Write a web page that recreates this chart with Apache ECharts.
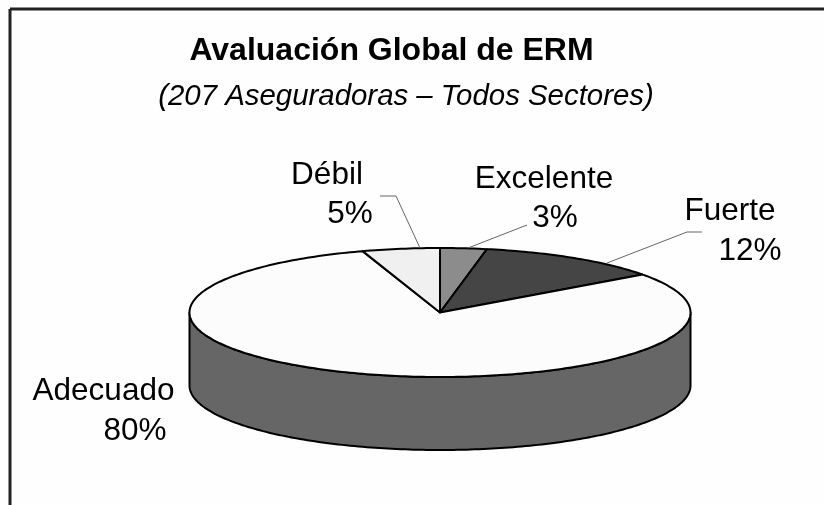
<!DOCTYPE html>
<html>
<head>
<meta charset="utf-8">
<title>Avaluación Global de ERM</title>
<script src="https://cdn.jsdelivr.net/npm/echarts@6/dist/echarts.min.js"></script>
<style>
  html, body { margin: 0; padding: 0; background: #fff; }
  #chart { width: 824px; height: 505px; }
</style>
</head>
<body>
<div id="chart"></div>
<script>
const categories = ["Excelente", "Fuerte", "Adecuado", "Débil"];
const shares = [3, 12, 80, 5];

const sliceColors = ["#8c8c8c", "#454545", "#fcfcfc", "#f0f0f0"];
const wallColor = "#666666";
const font = '"Liberation Sans", Arial, sans-serif';

// pie geometry in pixels: the ellipse is the squashed circle, depth is the wall height
const cx = 440, cy = 312.5, rx = 250.5, ry = 64.5, depth = 73;

// label line centres and leader line, same order as categories
const labelLayout = [
  { name: [544, 179], pct: [555, 218], leader: [[527, 225], [468, 248]] },
  { name: [730, 211], pct: [750, 251], leader: [[702, 232], [687, 232], [607, 263]] },
  { name: [103.5, 391], pct: [135, 431], leader: null },
  { name: [327, 175.5], pct: [350, 214.5], leader: [[380, 196], [396, 196], [420, 248]] }
];

const total = shares.reduce((a, b) => a + b, 0);

function rim(deg, drop) {
  const r = deg * Math.PI / 180;
  return [cx + rx * Math.sin(r), cy - ry * Math.cos(r) + (drop || 0)];
}

function arc(from, to, drop) {
  const pts = [];
  const n = Math.max(2, Math.ceil(to - from));
  for (let i = 0; i <= n; i++) {
    pts.push(rim(from + (to - from) * i / n, drop));
  }
  return pts;
}

function labelText(text, pos) {
  return {
    type: "text",
    x: pos[0],
    y: pos[1],
    style: {
      text: text,
      font: '31.5px ' + font,
      fill: "#000",
      align: "center",
      verticalAlign: "middle"
    }
  };
}

function renderSlice(params, api) {
  const i = params.dataIndex;
  let before = 0;
  for (let k = 0; k < i; k++) before += shares[k];
  const start = before / total * 360;
  const end = start + api.value(0) / total * 360;
  const children = [];

  // only the front half of the cylinder shows a wall
  const wallFrom = Math.max(start, 90), wallTo = Math.min(end, 270);
  if (wallTo > wallFrom) {
    children.push({
      type: "polygon",
      shape: { points: arc(wallFrom, wallTo, 0).concat(arc(wallFrom, wallTo, depth).reverse()) },
      style: { fill: wallColor, stroke: "#000", lineWidth: 2, lineJoin: "round" }
    });
  }

  children.push({
    type: "polygon",
    shape: { points: [[cx, cy]].concat(arc(start, end, 0)) },
    style: { fill: sliceColors[i], stroke: "#000", lineWidth: 2, lineJoin: "round" }
  });

  const lay = labelLayout[i];
  if (lay.leader) {
    children.push({
      type: "polyline",
      shape: { points: lay.leader },
      style: { fill: null, stroke: "#666", lineWidth: 1 }
    });
  }
  children.push(labelText(categories[i], lay.name));
  children.push(labelText(shares[i] + "%", lay.pct));
  return { type: "group", children: children };
}

const chart = echarts.init(document.getElementById("chart"));
chart.setOption({
  backgroundColor: "#fefefe",
  animation: false,
  title: [
    {
      text: "Avaluación Global de ERM",
      left: 386.5, top: 30, textAlign: "center",
      textStyle: { fontFamily: font, fontSize: 32, fontWeight: "bold", color: "#000" }
    },
    {
      text: "(207 Aseguradoras – Todos Sectores)",
      left: 401, top: 77, textAlign: "center",
      textStyle: { fontFamily: font, fontSize: 29.4, fontWeight: "normal", fontStyle: "italic", color: "#000" }
    }
  ],
  graphic: [
    { type: "line", silent: true, shape: { x1: 10, y1: 9, x2: 824, y2: 9 }, style: { stroke: "#222", lineWidth: 3 } },
    { type: "line", silent: true, shape: { x1: 10, y1: 9, x2: 10, y2: 505 }, style: { stroke: "#222", lineWidth: 3 } }
  ],
  series: [{
    type: "custom",
    coordinateSystem: "none",
    silent: true,
    data: shares,
    renderItem: renderSlice
  }]
});
</script>
</body>
</html>
